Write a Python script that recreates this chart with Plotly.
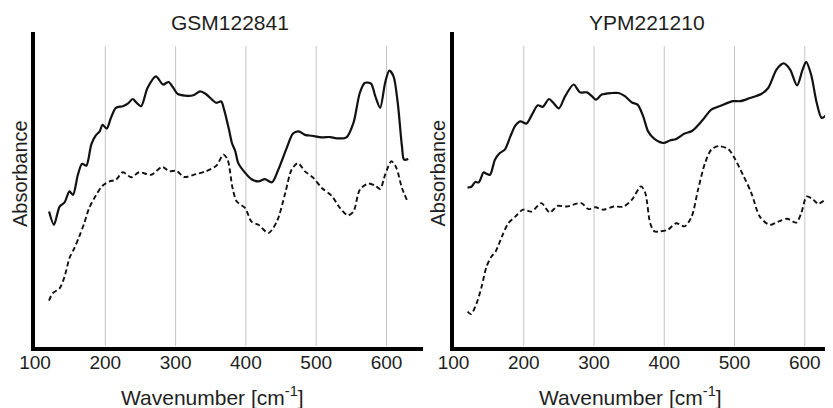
import plotly.graph_objects as go

# ---------------- data ----------------
GSM_SOLID_X = [120, 127, 135, 142, 149, 154, 161, 167, 173, 180, 186, 192, 196, 202, 208, 215, 225, 232, 239, 244, 251, 260, 272, 282, 290, 296, 303, 324, 335, 343, 358, 365, 369, 376, 380, 385, 389, 399, 408, 418, 427, 437, 446, 458, 467, 475, 484, 494, 508, 520, 529, 543, 553, 562, 569, 578, 584, 591, 598, 604, 610, 616, 622, 625, 631]
GSM_SOLID_Y = [42.9, 38.7, 44.5, 45.8, 49.3, 48.2, 54.6, 58.1, 57.5, 64.2, 67.0, 68.4, 70.5, 69.3, 72.7, 75.9, 76.4, 77.2, 78.7, 77.6, 76.4, 82.2, 85.9, 83.3, 84.1, 82.5, 80.3, 79.8, 81.1, 80.3, 77.5, 77.9, 75.3, 68.9, 64.8, 62.0, 58.4, 55.2, 53.2, 52.5, 53.2, 52.2, 56.2, 63.1, 67.7, 68.4, 67.3, 67.0, 66.5, 66.6, 66.2, 66.5, 71.1, 80.6, 83.8, 83.6, 79.6, 75.9, 83.8, 87.7, 85.9, 77.5, 63.6, 59.4, 59.6]

GSM_DASH_X = [120, 125, 135, 142, 149, 156, 163, 170, 177, 187, 196, 206, 215, 225, 237, 248, 265, 281, 291, 301, 312, 329, 343, 358, 368, 374, 381, 387, 399, 408, 418, 432, 444, 456, 465, 474, 484, 496, 508, 522, 534, 545, 553, 562, 574, 584, 591, 598, 607, 614, 622, 630]
GSM_DASH_Y = [14.6, 16.9, 18.5, 22.2, 28.1, 31.3, 35.0, 39.2, 44.0, 48.2, 51.1, 52.5, 53.0, 55.4, 53.8, 55.4, 54.6, 57.1, 55.7, 55.9, 53.9, 54.8, 55.7, 57.5, 61.0, 59.4, 50.4, 46.1, 44.0, 39.7, 38.7, 36.1, 39.7, 48.8, 56.2, 58.3, 55.7, 53.6, 50.4, 47.9, 44.0, 41.7, 42.9, 49.8, 51.8, 51.1, 50.1, 54.6, 58.9, 56.8, 50.4, 46.1]

YPM_SOLID_X = [120, 125, 131, 136, 143, 147, 152, 159, 166, 173, 181, 188, 195, 204, 211, 220, 227, 236, 242, 250, 259, 271, 280, 290, 297, 303, 311, 325, 335, 344, 354, 362, 370, 377, 386, 399, 408, 417, 429, 440, 455, 467, 481, 498, 508, 522, 538, 548, 560, 570, 579, 589, 597, 602, 609, 617, 624, 631]
YPM_SOLID_Y = [50.6, 50.7, 52.3, 52.2, 55.4, 54.9, 54.6, 59.4, 61.5, 62.6, 66.8, 70.2, 71.6, 70.9, 73.4, 76.7, 76.2, 78.7, 77.5, 75.7, 79.6, 83.3, 80.8, 80.8, 79.6, 78.5, 80.1, 80.6, 80.6, 79.6, 77.6, 76.9, 73.2, 68.4, 66.0, 64.7, 65.5, 66.0, 67.7, 68.6, 72.1, 75.3, 76.6, 78.0, 78.0, 79.0, 80.3, 82.2, 88.1, 90.0, 88.1, 83.0, 88.1, 90.5, 86.5, 77.5, 72.7, 73.7]

YPM_DASH_X = [120, 125, 133, 140, 147, 154, 160, 169, 178, 188, 199, 211, 225, 237, 248, 261, 282, 292, 302, 313, 328, 342, 354, 367, 373, 380, 386, 394, 405, 417, 429, 439, 448, 458, 467, 477, 491, 500, 512, 524, 536, 550, 562, 575, 588, 595, 603, 612, 619, 630]
YPM_DASH_Y = [11.1, 10.3, 13.8, 19.0, 25.4, 28.6, 30.2, 35.0, 39.2, 41.3, 43.5, 42.9, 45.6, 42.6, 44.7, 44.5, 45.6, 43.7, 44.3, 43.5, 44.5, 44.5, 46.7, 50.9, 48.8, 39.2, 36.6, 36.6, 37.1, 39.2, 38.2, 41.3, 49.8, 58.3, 62.6, 63.7, 62.8, 59.9, 54.6, 48.8, 41.3, 38.7, 39.7, 40.6, 39.4, 42.4, 47.7, 46.7, 45.4, 46.9]

TICK_VALUES = [100, 200, 300, 400, 500, 600]
TICK_LABELS = ["100", "200", "300", "400", "500", "600"]
GRID_VALUES = [200, 300, 400, 500, 600]
PANEL_TITLES = ["GSM122841", "YPM221210"]
X_TITLE = "Wavenumber [cm<sup>-1</sup>]"
Y_TITLE = "Absorbance"

# ---------------- figure ----------------
# the page body has an 8px margin, so the figure is drawn 8px smaller and
# positions (given in window pixels) are shifted by that offset
OFF = 8
W, H = 833 - OFF, 408 - OFF


def px(x):
    return (x - OFF) / W


def py(y):
    return 1 - (y - OFF) / H


FONT = "Liberation Sans, Arial, sans-serif"
TXT = "#1e1e1e"
fig = go.Figure()

panels = [
    ("x", "y", GSM_SOLID_X, GSM_SOLID_Y, GSM_DASH_X, GSM_DASH_Y),
    ("x2", "y2", YPM_SOLID_X, YPM_SOLID_Y, YPM_DASH_X, YPM_DASH_Y),
]
for xa, ya, sx, sy, dx, dy in panels:
    fig.add_trace(go.Scatter(x=sx, y=sy, xaxis=xa, yaxis=ya, mode="lines",
                             line=dict(color="#111111", width=2.2, shape="spline", smoothing=0.8),
                             showlegend=False, hoverinfo="skip"))
    fig.add_trace(go.Scatter(x=dx, y=dy, xaxis=xa, yaxis=ya, mode="lines",
                             line=dict(color="#111111", width=1.9, dash="5px,3px",
                                       shape="spline", smoothing=0.8),
                             showlegend=False, hoverinfo="skip"))
    for g in GRID_VALUES:
        fig.add_shape(type="line", xref=xa, yref=ya, x0=g, x1=g, y0=0, y1=95.5,
                      line=dict(color="#c4c4c4", width=1), layer="below")

axis_common = dict(showgrid=False, zeroline=False, showline=True, linecolor="#000000",
                   linewidth=3.5, ticks="", fixedrange=True, automargin=False)
xtick_common = dict(tickvals=TICK_VALUES, ticktext=TICK_LABELS,
                    tickfont=dict(size=19, color=TXT), ticklabelstandoff=-4)
fig.update_layout(
    template="none",
    width=W, height=H,
    margin=dict(l=0, r=0, t=0, b=0, pad=0),
    paper_bgcolor="white", plot_bgcolor="white",
    font=dict(family=FONT, color=TXT),
    xaxis=dict(domain=[px(35), px(422.7)], range=[100, 651.5], anchor="y",
               **xtick_common, **axis_common),
    yaxis=dict(domain=[py(346.5), py(32)], range=[0, 100],
               showticklabels=False, anchor="x", **axis_common),
    xaxis2=dict(domain=[px(453.5), 1.0], range=[100, 640.2], anchor="y2",
                **xtick_common, **axis_common),
    yaxis2=dict(domain=[py(346.5), py(32)], range=[0, 100],
                showticklabels=False, anchor="x2", **axis_common),
)

title_pos = [(230, 22), (647, 22)]
xtitle_pos = [(212.5, 396), (630.5, 396)]
ytitle_pos = [(20, 174), (437.5, 173)]
for i in range(2):
    tx, ty = title_pos[i]
    fig.add_annotation(text=PANEL_TITLES[i], x=px(tx), y=py(ty), xref="paper", yref="paper",
                       showarrow=False, xanchor="center", yanchor="middle",
                       font=dict(size=21, color=TXT, family=FONT))
    xx, xy = xtitle_pos[i]
    fig.add_annotation(text=X_TITLE, x=px(xx), y=py(xy), xref="paper", yref="paper",
                       showarrow=False, xanchor="center", yanchor="middle",
                       font=dict(size=21, color=TXT, family=FONT))
    yx, yy = ytitle_pos[i]
    fig.add_annotation(text=Y_TITLE, x=px(yx), y=py(yy), xref="paper", yref="paper",
                       showarrow=False, xanchor="center", yanchor="middle", textangle=-90,
                       font=dict(size=20, color=TXT, family=FONT))

fig.write_html("out.html", config=dict(displayModeBar=False))
